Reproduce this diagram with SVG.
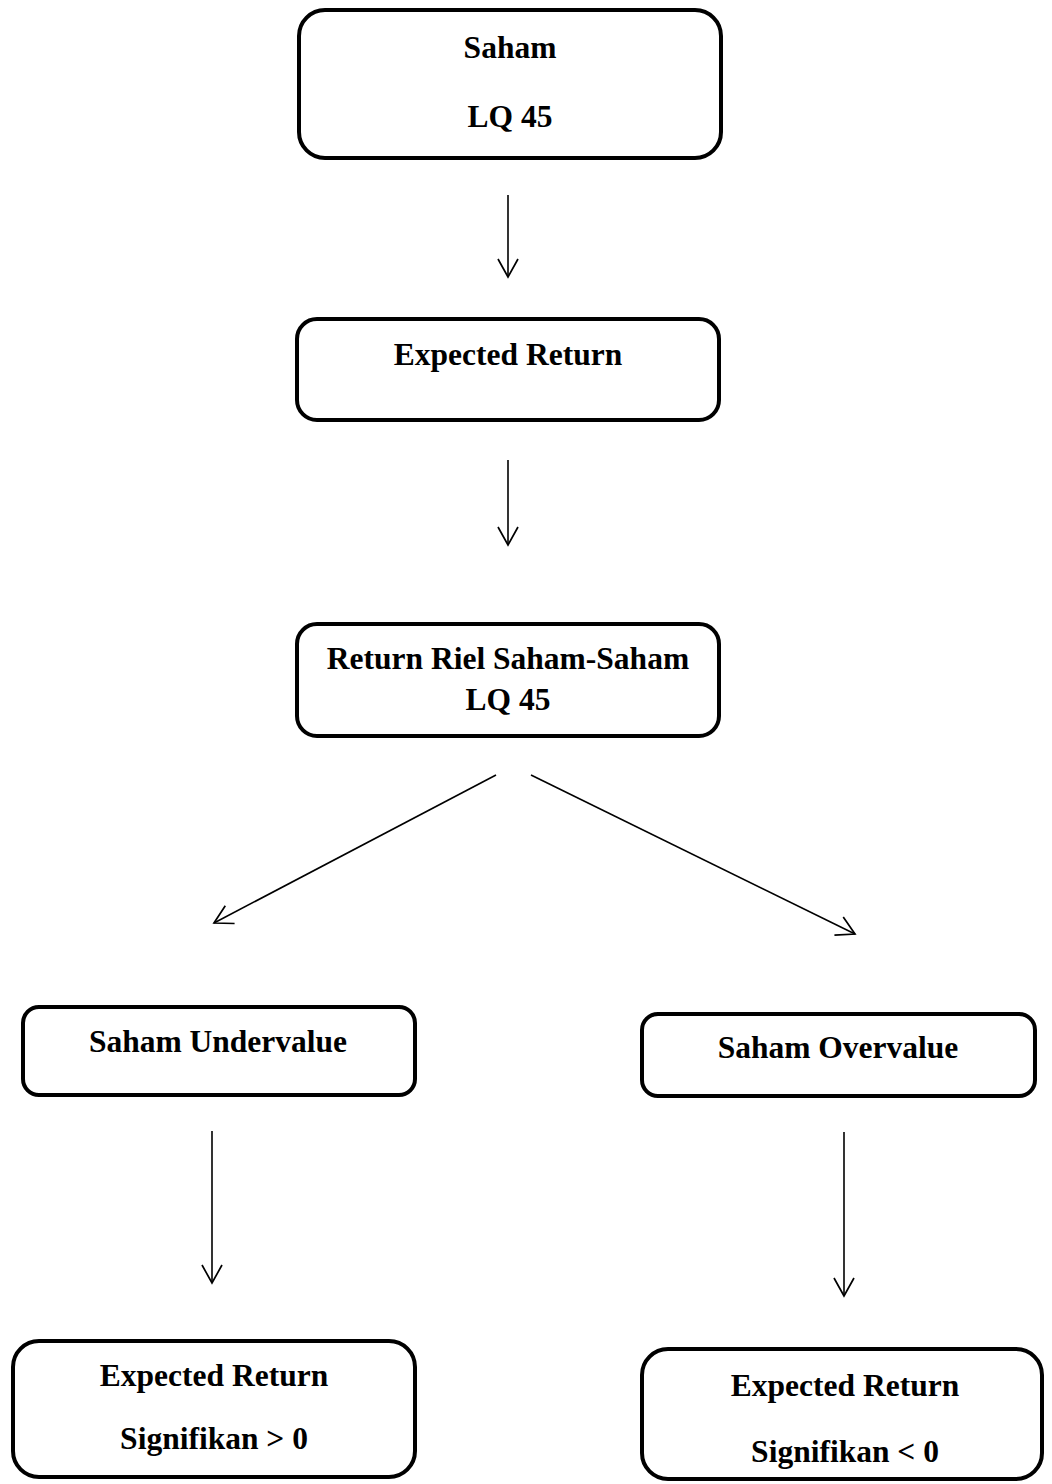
<svg xmlns="http://www.w3.org/2000/svg" width="1052" height="1484" viewBox="0 0 1052 1484">
<style>
.box{fill:#fff;stroke:#000;stroke-width:4}
.t{font-family:"Liberation Serif","Times New Roman",serif;font-weight:bold;font-size:31.5px;text-anchor:middle;fill:#000}
.c{stroke:#000;stroke-width:1.6;fill:none;marker-end:url(#ah)}
</style>
<defs>
<marker id="ah" viewBox="-22 -12 24 24" markerWidth="24" markerHeight="24" refX="0" refY="0" orient="auto" markerUnits="userSpaceOnUse">
<path d="M-18,-10 L0,0 L-18,10" fill="none" stroke="#000" stroke-width="1.7"/>
</marker>
</defs>
<g id="connectors">
<line class="c" x1="508" y1="195" x2="508" y2="277"/>
<line class="c" x1="508" y1="460" x2="508" y2="545"/>
<line class="c" x1="496" y1="775" x2="214" y2="923"/>
<line class="c" x1="531" y1="775" x2="855" y2="934"/>
<line class="c" x1="212" y1="1131" x2="212" y2="1283"/>
<line class="c" x1="844" y1="1132" x2="844" y2="1296"/>
</g>
<g id="n1"><rect class="box" x="299" y="10" width="422" height="148" rx="26"/>
<text class="t" x="510" y="58">Saham</text><text class="t" x="510" y="127">LQ 45</text></g>
<g id="n2"><rect class="box" x="297" y="319" width="422" height="101" rx="20"/>
<text class="t" x="508" y="365">Expected Return</text></g>
<g id="n3"><rect class="box" x="297" y="624" width="422" height="112" rx="20"/>
<text class="t" x="508" y="669">Return Riel Saham-Saham</text><text class="t" x="508" y="710">LQ 45</text></g>
<g id="n4"><rect class="box" x="23" y="1007" width="392" height="88" rx="16"/>
<text class="t" x="218" y="1052">Saham Undervalue</text></g>
<g id="n5"><rect class="box" x="642" y="1014" width="393" height="82" rx="16"/>
<text class="t" x="838" y="1058">Saham Overvalue</text></g>
<g id="n6"><rect class="box" x="13" y="1341" width="402" height="136" rx="26"/>
<text class="t" x="214" y="1386">Expected Return</text><text class="t" x="214" y="1449">Signifikan &gt; 0</text></g>
<g id="n7"><rect class="box" x="642" y="1349" width="400" height="130" rx="26"/>
<text class="t" x="845" y="1396">Expected Return</text><text class="t" x="845" y="1462">Signifikan &lt; 0</text></g>
</svg>
